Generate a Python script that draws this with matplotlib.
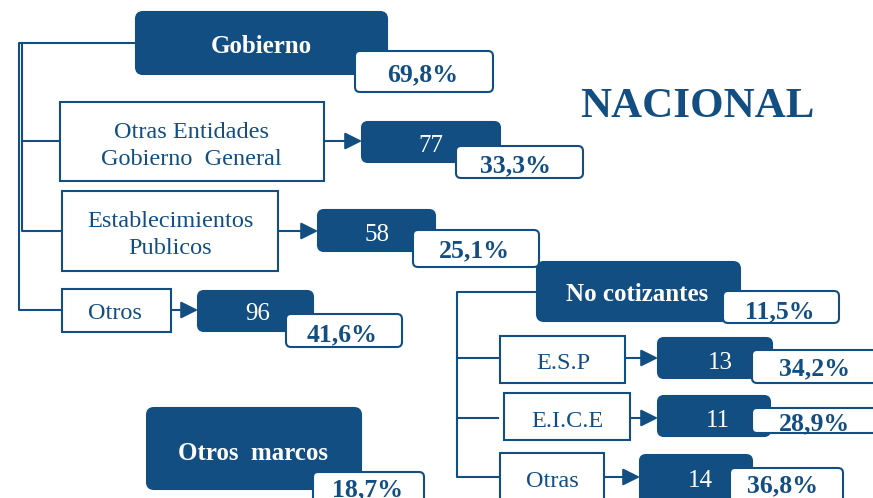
import matplotlib.pyplot as plt
from matplotlib.patches import FancyBboxPatch, Rectangle

# data
title = "NACIONAL"
main_labels = ["Gobierno", "No cotizantes", "Otros  marcos"]
main_pct = [69.8, 11.5, 18.7]

gob_labels = ["Otras Entidades\nGobierno  General", "Establecimientos\nPublicos", "Otros"]
gob_counts = [77, 58, 96]
gob_pct = [33.3, 25.1, 41.6]

nc_labels = ["E.S.P", "E.I.C.E", "Otras"]
nc_counts = [13, 11, 14]
nc_pct = [34.2, 28.9, 36.8]

BLUE = "#134e82"
FONT = "Liberation Serif"

# layout in pixel coordinates (x0, y0, x1, y1) and text baselines
main_boxes = [(136, 12, 387, 74), (537, 262, 740, 321), (147, 408, 361, 489)]
main_text = [(261, 53), (637, 301), (253, 460)]
main_pct_boxes = [(355, 51, 493, 92), (723, 291, 839, 323), (313, 472, 424, 510)]
main_pct_text = [(423, 81), (780, 318), (368, 496)]

gob_label_boxes = [(60, 102, 324, 181), (62, 191, 278, 271), (62, 289, 171, 332)]
gob_label_text = [(191, 165), (170, 254), (115, 319)]
gob_count_boxes = [(362, 122, 500, 162), (318, 210, 435, 251), (198, 291, 313, 331)]
gob_count_text = [(431, 152), (377, 241), (258, 320)]
gob_pct_boxes = [(456, 146, 583, 178), (413, 230, 539, 267), (286, 314, 402, 347)]
gob_pct_text = [(515, 172), (474, 257), (342, 341)]
gob_rows = [141, 231, 310]

nc_label_boxes = [(500, 336, 625, 383), (504, 393, 630, 440), (500, 453, 604, 510)]
nc_label_text = [(563, 369), (567, 427), (552, 487)]
nc_count_boxes = [(658, 338, 772, 378), (658, 396, 770, 436), (640, 455, 752, 510)]
nc_count_text = [(720, 369), (718, 427), (700, 487)]
nc_pct_boxes = [(752, 350, 885, 383), (752, 408, 885, 433), (730, 468, 843, 510)]
nc_pct_text = [(814, 375), (814, 430), (783, 492)]
nc_rows = [358, 418, 477]


def fmt_pct(v):
    return f"{v:.1f}".replace(".", ",") + "%"


def rbox(ax, b, fc, ec, r, z):
    x0, y0, x1, y1 = b
    ax.add_patch(FancyBboxPatch((x0, y0), x1 - x0, y1 - y0,
                                boxstyle=f"round,pad=0,rounding_size={r}",
                                fc=fc, ec=ec, lw=1.5, zorder=z))


def sqbox(ax, b):
    x0, y0, x1, y1 = b
    ax.add_patch(Rectangle((x0, y0), x1 - x0, y1 - y0, fc="white", ec=BLUE,
                           lw=1.5, zorder=2))


def put(ax, xy, s, size, color, bold=False, z=5):
    ax.text(xy[0], xy[1], s, ha="center", va="baseline", fontsize=size,
            color=color, family=FONT, fontweight="bold" if bold else "normal",
            zorder=z, linespacing=1.4)


def arrow(ax, x0, x1, y):
    ax.annotate("", xy=(x1, y), xytext=(x0, y),
                arrowprops=dict(arrowstyle="-|>", color=BLUE, lw=1.5,
                                mutation_scale=26, shrinkA=0, shrinkB=0),
                zorder=3)


fig = plt.figure(figsize=(8.73, 4.98), dpi=100)
ax = fig.add_axes([0, 0, 1, 1])
ax.set_xlim(0, 873)
ax.set_ylim(498, 0)
ax.axis("off")

# connectors of Gobierno
ax.plot([136, 19, 19, 62], [43, 43, gob_rows[2], gob_rows[2]], color=BLUE, lw=1.5, zorder=1)
ax.plot([22, 22, 62], [43, gob_rows[1], gob_rows[1]], color=BLUE, lw=1.5, zorder=1)
ax.plot([22, 60], [gob_rows[0], gob_rows[0]], color=BLUE, lw=1.5, zorder=1)

# connectors of No cotizantes
ax.plot([537, 457, 457, 500], [292, 292, nc_rows[2], nc_rows[2]], color=BLUE, lw=1.5, zorder=1)
ax.plot([457, 500], [nc_rows[0], nc_rows[0]], color=BLUE, lw=1.5, zorder=1)
ax.plot([457, 498], [nc_rows[1], nc_rows[1]], color=BLUE, lw=1.5, zorder=1)

for i in range(3):
    rbox(ax, main_boxes[i], BLUE, BLUE, 7, 2)
    put(ax, main_text[i], main_labels[i], 18, "white", bold=True)
    rbox(ax, main_pct_boxes[i], "white", BLUE, 5, 3)
    put(ax, main_pct_text[i], fmt_pct(main_pct[i]), 18.5, BLUE, bold=True)

groups = [
    (gob_labels, gob_counts, gob_pct, gob_label_boxes, gob_label_text, gob_count_boxes,
     gob_count_text, gob_pct_boxes, gob_pct_text, gob_rows),
    (nc_labels, nc_counts, nc_pct, nc_label_boxes, nc_label_text, nc_count_boxes,
     nc_count_text, nc_pct_boxes, nc_pct_text, nc_rows),
]
for labels, counts, pcts, lb, lt, cb, ct, pb, pt, rows in groups:
    for i in range(len(labels)):
        sqbox(ax, lb[i])
        put(ax, lt[i], labels[i], 17.5, BLUE)
        arrow(ax, lb[i][2], cb[i][0], rows[i])
        rbox(ax, cb[i], BLUE, BLUE, 6, 2)
        put(ax, ct[i], str(counts[i]), 18, "white")
        rbox(ax, pb[i], "white", BLUE, 5, 3)
        put(ax, pt[i], fmt_pct(pcts[i]), 18.5, BLUE, bold=True)

put(ax, (697, 117), title, 31, BLUE, bold=True)

fig.savefig("out.png", dpi=100)
